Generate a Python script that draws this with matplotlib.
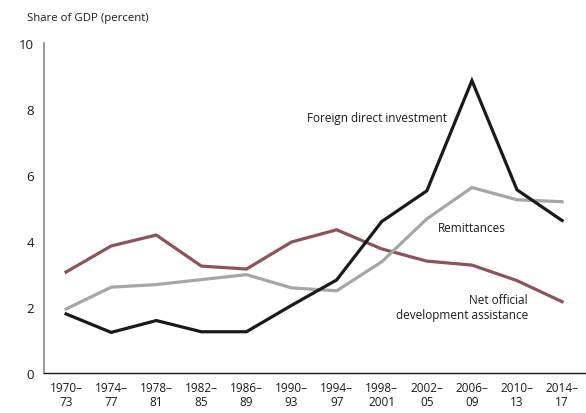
import matplotlib
matplotlib.use("Agg")
import matplotlib.pyplot as plt

plt.rcParams['font.family'] = ['Open Sans', 'DejaVu Sans']

periods = ["1970–\n73", "1974–\n77", "1978–\n81", "1982–\n85", "1986–\n89", "1990–\n93",
           "1994–\n97", "1998–\n2001", "2002–\n05", "2006–\n09", "2010–\n13", "2014–\n17"]
fdi = [1.79, 1.23, 1.59, 1.25, 1.25, 2.05, 2.82, 4.59, 5.52, 8.86, 5.55, 4.62]
remittances = [1.94, 2.60, 2.68, 2.83, 2.98, 2.58, 2.49, 3.37, 4.67, 5.62, 5.25, 5.19]
oda = [3.06, 3.85, 4.18, 3.24, 3.15, 3.97, 4.34, 3.76, 3.39, 3.27, 2.80, 2.16]
yticks = [0, 2, 4, 6, 8, 10]

fig = plt.figure(figsize=(5.86, 4.14), dpi=100)
ax = fig.add_axes([44/586, 1-374/414, 1-44/586, (374-44)/414])
x = list(range(len(periods)))

ax.plot(x, oda, color='#8c5459', lw=2.3, solid_joinstyle='miter')
ax.plot(x, remittances, color='#a6a6a6', lw=2.3, solid_joinstyle='miter')
ax.plot(x, fdi, color='#1a1a1a', lw=2.3, solid_joinstyle='miter')

ax.set_xlim(-0.49, 11.53)
ax.set_ylim(0, 10)
ax.set_yticks(yticks)
ax.set_yticklabels([str(t) for t in yticks])
ax.set_xticks(x)
ax.set_xticklabels(periods, linespacing=1.1)
ax.tick_params(axis='both', length=0, labelsize=9, colors='#1a1a1a')
ax.tick_params(axis='y', pad=7, labelsize=9.5)
ax.tick_params(axis='x', pad=6, labelsize=8.5)

for s in ['top', 'right']:
    ax.spines[s].set_visible(False)
ax.spines['left'].set_color('#888888')
ax.spines['left'].set_linewidth(1.2)
ax.spines['bottom'].set_color('#1a1a1a')
ax.spines['bottom'].set_linewidth(1.0)

fig.text(27/586, 1-18/414, "Share of GDP (percent)", ha='left', va='center',
         fontsize=8.2, color='#1a1a1a')

ax.text(5.34, 7.75, "Foreign direct investment", ha='left', va='center', fontsize=8.5, color='#1a1a1a')
ax.text(9.0, 4.42, "Remittances", ha='center', va='center', fontsize=8.5, color='#1a1a1a')
ax.text(10.24, 2.0, "Net official\ndevelopment assistance", ha='right', va='center',
        fontsize=8.5, color='#1a1a1a', multialignment='right', linespacing=1.2)

fig.savefig("out.png", dpi=100)
